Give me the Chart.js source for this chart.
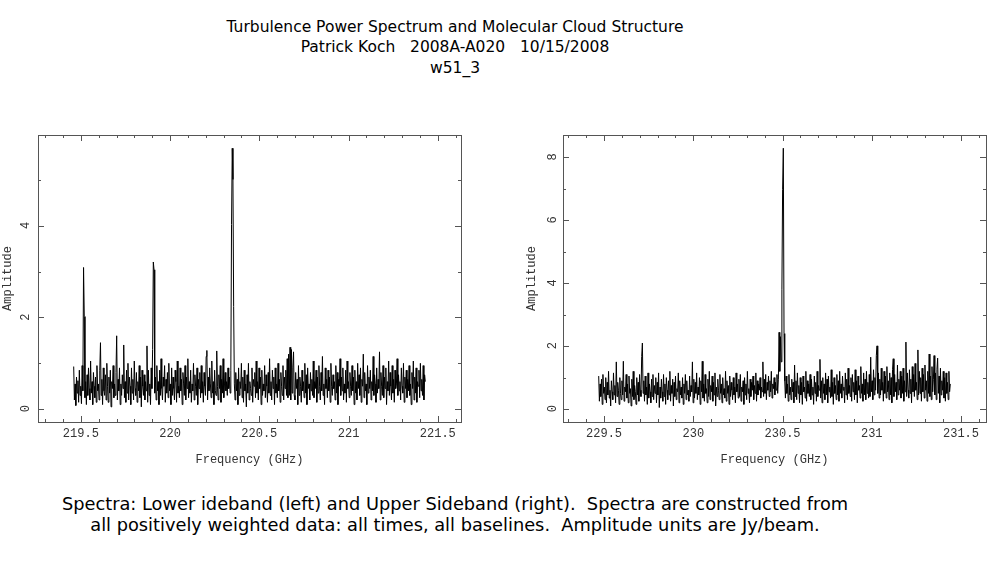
<!DOCTYPE html>
<html>
<head>
<meta charset="utf-8">
<script src="https://cdn.jsdelivr.net/npm/chart.js@4/dist/chart.umd.min.js"></script>
<style>
  html, body { margin: 0; padding: 0; background: #fff; }
  body { width: 987px; height: 567px; position: relative; overflow: hidden; }
  .txt { position: absolute; left: 0; width: 910px; text-align: center; white-space: pre;
         font-family: "DejaVu Sans", sans-serif; color: #000; }
  #title { top: 16.5px; font-size: 15.5px; line-height: 20.5px; }
  #caption { top: 493px; font-size: 17.8px; line-height: 21px; }
  .panel { position: absolute; top: 125px; height: 350px; }
  #lsbBox { left: 0; width: 475px; }
  #usbBox { left: 520px; width: 467px; }
</style>
</head>
<body>
<div id="title" class="txt">Turbulence Power Spectrum and Molecular Cloud Structure
Patrick Koch   2008A-A020   10/15/2008
w51_3</div>
<div class="panel" id="lsbBox"><canvas id="lsbChart"></canvas></div>
<div class="panel" id="usbBox"><canvas id="usbChart"></canvas></div>
<div id="caption" class="txt">Spectra: Lower ideband (left) and Upper Sideband (right).  Spectra are constructed from
all positively weighted data: all times, all baselines.  Amplitude units are Jy/beam.</div>
<script>
// lower sideband: first channel frequency and channel width (GHz), amplitudes in Jy/beam
var lsbFirstChannel = 219.46;
var lsbChannelWidth = 0.003948;
var lsbAmp = [
  0.93,0.2,0.55,0.08,0.7,0.35,0.62,0.15,0.85,0.3,0.5,0.12,0.95,0.4,3.09,2.02,0.25,0.6,0.1,0.75,
  0.3,0.9,0.45,0.2,1.05,0.35,0.6,0.1,0.8,0.5,0.25,0.7,0.15,0.95,0.4,0.55,0.2,0.85,1.45,0.3,
  0.65,0.1,0.9,0.4,0.3,0.75,0.2,1.0,0.5,0.15,0.7,0.35,0.85,0.05,0.6,0.45,0.95,0.25,0.55,0.3,
  0.8,1.6,0.2,0.65,0.4,0.9,0.1,0.55,0.3,0.75,0.45,1.4,0.25,0.6,0.15,0.85,0.35,1.0,0.2,0.7,
  0.5,0.1,0.9,0.35,0.65,0.2,1.05,0.45,0.3,0.8,0.15,0.6,0.4,0.95,0.25,0.7,0.05,0.85,0.5,0.3,
  0.75,0.2,0.6,0.4,1.38,0.15,0.85,0.3,0.55,0.1,0.9,0.45,1.3,3.21,3.04,0.35,0.7,0.2,0.95,0.4,
  0.6,0.1,0.85,0.3,1.1,0.45,0.2,0.7,0.5,0.95,0.15,0.65,0.35,0.8,0.25,1.0,0.4,0.55,0.1,0.9,
  0.3,0.7,0.45,0.2,0.85,0.6,0.15,1.05,0.35,0.5,0.25,0.9,0.4,0.65,0.1,0.8,0.55,0.3,0.95,0.2,
  0.7,0.45,1.1,0.25,0.6,0.35,0.85,0.15,0.55,0.4,1.0,0.2,0.75,0.5,0.3,0.9,0.1,0.65,0.45,0.8,
  0.25,0.95,0.35,0.6,0.15,0.8,0.5,0.3,1.15,1.28,0.2,0.7,0.4,0.9,0.55,0.25,1.05,0.35,0.6,0.1,
  0.85,0.4,0.3,1.27,0.5,0.2,0.75,0.45,0.95,0.15,0.65,0.35,1.1,0.25,0.55,0.8,0.4,0.6,0.3,0.9,
  0.45,0.7,0.35,0.85,4.03,5.69,5.01,2.24,0.55,0.2,0.8,0.4,0.65,0.1,0.9,0.3,0.6,0.45,1.0,0.25,
  0.7,0.15,0.85,0.4,0.55,0.05,0.75,0.35,1.0,0.2,0.6,0.45,0.3,0.9,0.15,0.65,0.5,0.8,0.25,1.05,
  0.35,0.6,0.2,0.9,0.45,0.7,0.1,0.85,0.3,0.55,0.4,0.95,0.25,0.75,0.5,0.15,0.8,0.35,1.1,0.3,
  0.6,0.2,0.85,0.45,0.7,0.1,0.9,0.35,0.55,0.25,1.0,0.4,0.65,0.15,0.8,0.5,0.3,0.95,0.2,0.7,
  0.45,0.85,0.3,1.1,0.25,1.2,0.3,1.35,0.2,1.3,0.35,0.9,1.25,0.3,0.2,0.8,0.45,0.65,0.1,0.95,
  0.3,0.7,0.5,0.15,0.85,0.4,0.6,0.25,1.0,0.35,0.75,0.1,0.9,0.45,0.55,0.2,0.8,0.4,0.65,0.3,
  1.05,0.25,0.6,0.45,0.85,0.15,0.7,0.35,0.95,0.5,0.2,0.8,0.4,1.15,0.3,0.55,0.1,0.9,0.45,0.65,
  0.25,0.85,0.4,0.7,0.15,1.0,0.5,0.3,0.75,0.45,0.6,0.2,0.95,0.35,0.8,0.1,0.65,0.5,1.1,0.3,
  0.7,0.4,0.9,0.2,0.55,0.35,0.85,0.15,1.05,0.45,0.6,0.25,0.8,0.5,0.3,0.95,0.4,0.7,0.1,0.85,
  0.35,0.6,0.2,1.0,0.45,0.75,0.3,0.9,0.15,0.65,0.5,1.2,0.25,0.8,0.4,0.55,0.1,0.95,0.35,0.7,
  0.45,0.85,0.2,0.6,0.4,1.15,0.3,0.75,0.55,0.15,0.9,0.35,0.65,0.45,1.25,0.2,0.8,0.5,0.3,0.95,
  0.25,0.7,0.45,0.9,0.1,0.6,0.4,1.05,0.3,0.8,0.5,0.2,0.95,0.35,0.65,0.15,0.85,0.45,0.55,1.1,
  0.3,0.75,0.4,0.6,0.2,0.9,0.5,0.35,1.0,0.15,0.7,0.45,0.85,0.25,0.65,0.4,0.95,0.3,0.55,0.1,
  0.8,0.45,1.05,0.2,0.7,0.35,0.9,0.15,0.6,0.5,0.85,0.25,1.0,0.4,0.65,0.3,0.95,0.2,0.75,0.6
];
// upper sideband
var usbFirstChannel = 229.47;
var usbChannelWidth = 0.003948;
var usbAmp = [
  1.05,0.25,0.8,0.4,0.95,0.15,1.1,0.5,0.7,0.3,1.0,0.2,0.85,0.45,1.2,0.35,0.6,0.1,0.9,0.55,
  0.3,1.15,0.45,0.75,0.2,1.5,0.4,0.85,0.6,0.15,1.0,0.5,0.3,0.9,0.45,1.52,0.25,0.7,0.55,1.1,
  0.35,0.8,0.2,1.05,0.5,0.65,0.1,0.95,0.4,1.2,0.3,0.75,0.55,0.15,1.0,0.45,0.85,0.25,1.1,0.6,
  0.4,1.67,2.1,0.5,0.9,0.25,1.05,0.45,0.7,0.15,1.15,0.35,0.8,0.55,0.2,0.95,0.4,1.1,0.3,0.75,
  0.5,1.0,0.2,0.85,0.45,1.15,0.05,0.7,0.35,0.95,0.55,0.25,1.1,0.4,0.8,0.15,1.0,0.6,0.3,0.9,
  0.45,1.2,0.25,0.75,0.5,0.95,0.1,0.85,0.4,1.05,0.3,0.65,0.55,1.15,0.2,0.9,0.45,0.7,0.35,1.0,
  0.15,0.8,0.5,1.1,0.3,0.9,0.45,0.6,0.25,1.05,0.4,0.75,0.55,1.5,0.2,0.95,0.35,0.85,0.5,1.15,
  0.3,0.7,0.45,1.0,0.15,0.9,0.55,1.52,0.35,0.8,0.25,1.1,0.5,0.65,0.2,0.95,0.4,1.2,0.3,0.75,
  0.55,1.05,0.25,0.85,0.45,1.15,0.1,0.7,0.4,0.95,0.6,0.3,1.1,0.5,0.8,0.2,1.0,0.45,0.65,0.35,
  1.2,0.25,0.9,0.5,0.75,0.15,1.05,0.4,0.85,0.6,0.3,1.0,0.45,0.7,0.2,1.15,0.55,0.8,0.35,0.95,
  0.4,1.1,0.25,0.7,0.55,0.9,0.15,1.0,0.45,0.8,0.3,1.2,0.5,0.65,0.2,0.95,0.4,0.85,0.6,1.05,
  0.3,0.75,0.5,1.15,0.25,0.9,0.45,0.8,0.6,1.0,0.35,0.7,0.55,1.5,0.4,0.95,0.5,1.1,0.3,0.85,
  0.6,1.05,0.4,0.9,0.55,1.2,0.35,0.8,0.65,1.0,0.45,0.85,0.6,1.1,0.5,0.95,2.44,1.2,2.3,1.5,
  3.79,6.97,8.29,2.4,0.9,0.35,1.05,0.5,0.8,0.25,1.1,0.45,0.7,0.3,0.95,0.55,0.85,0.2,1.4,0.4,
  0.9,0.3,1.15,0.5,0.75,0.2,1.0,0.45,0.85,0.15,1.05,0.55,0.7,0.35,1.2,0.25,0.9,0.5,0.8,0.4,
  1.1,0.3,0.95,0.45,0.7,0.15,1.05,0.5,0.85,0.25,1.2,0.4,0.75,0.6,1.58,0.35,0.9,0.2,1.0,0.5,
  0.8,0.3,1.15,0.45,0.95,0.2,1.05,0.55,0.7,0.35,1.25,0.4,0.85,0.15,1.0,0.5,0.75,0.3,1.1,0.45,
  0.9,0.25,1.2,0.5,0.8,0.35,1.05,0.6,0.7,0.2,1.15,0.45,0.95,0.3,1.3,0.5,0.75,0.4,1.0,0.25,
  1.1,0.55,0.85,0.3,1.25,0.45,0.9,0.2,1.05,0.6,0.75,0.35,1.35,0.5,0.8,0.25,1.15,0.45,0.95,0.3,
  1.2,0.5,0.85,0.35,1.1,0.4,1.65,0.55,0.9,0.3,1.25,0.45,1.0,0.6,1.7,2.01,0.5,1.15,0.35,0.95,
  0.45,1.3,0.6,0.85,0.25,1.2,0.5,1.05,0.35,1.35,0.55,0.9,0.3,1.15,0.45,1.0,0.2,1.25,1.6,0.4,
  1.1,0.55,0.85,0.3,1.4,0.45,0.95,0.6,1.2,0.35,1.05,0.5,1.3,0.25,0.9,0.55,2.13,0.4,1.15,0.6,
  0.35,1.25,0.5,0.95,0.2,1.35,0.55,1.1,0.4,1.45,0.6,0.85,0.3,1.88,0.45,1.2,0.5,1.0,0.25,1.3,
  0.55,1.1,0.35,1.4,0.6,0.9,0.25,1.2,0.5,1.75,0.4,1.05,0.3,1.35,0.55,0.95,1.7,0.45,1.15,0.3,
  1.25,1.62,0.5,1.05,0.2,1.3,0.45,0.9,0.6,1.2,0.35,1.0,0.25,1.15,0.5,0.85,0.3,1.2,0.55,0.8
];

var lsbFreqTicks = [219.5, 220, 220.5, 221, 221.5];
var usbFreqTicks = [229.5, 230, 230.5, 231, 231.5];
var lsbAmpTicks = [0, 2, 4];
var usbAmpTicks = [0, 2, 4, 6, 8];

var axisFont = { family: 'Liberation Mono', size: 12 };
var axisColor = '#333';

// PGPLOT-like box: full frame with inward ticks on all four sides
var boxPlugin = {
  id: 'box',
  afterDatasetsDraw: function(chart) {
    var ctx = chart.ctx, a = chart.chartArea, x = chart.scales.x, y = chart.scales.y;
    ctx.save();
    ctx.strokeStyle = '#555';
    ctx.lineWidth = 1;
    ctx.strokeRect(Math.round(a.left) + 0.5, Math.round(a.top) + 0.5,
                   Math.round(a.right - a.left), Math.round(a.bottom - a.top));
    ctx.beginPath();
    for (var k = Math.ceil(x.min * 10); k <= Math.floor(x.max * 10); k++) {
      var px = Math.round(x.getPixelForValue(k / 10)) + 0.5;
      var len = (k % 5 === 0) ? 6 : 3;
      ctx.moveTo(px, a.bottom); ctx.lineTo(px, a.bottom - len);
      ctx.moveTo(px, a.top); ctx.lineTo(px, a.top + len);
    }
    for (var j = Math.ceil(y.min); j <= Math.floor(y.max); j++) {
      var py = Math.round(y.getPixelForValue(j)) + 0.5;
      var l2 = (j % 2 === 0) ? 6 : 3;
      ctx.moveTo(a.left, py); ctx.lineTo(a.left + l2, py);
      ctx.moveTo(a.right, py); ctx.lineTo(a.right - l2, py);
    }
    ctx.stroke();
    ctx.restore();
  }
};

function makeSpectrum(id, first, width, amps, xr, yr, xTicks, yTicks, geo) {
  var points = amps.map(function(v, i) { return { x: first + i * width, y: v }; });
  return new Chart(document.getElementById(id), {
    type: 'line',
    data: { datasets: [{ data: points, borderColor: '#000', borderWidth: 1, pointRadius: 0, tension: 0 }] },
    options: {
      responsive: true,
      maintainAspectRatio: false,
      animation: false,
      layout: { padding: { top: geo.top, right: geo.right, left: 0, bottom: 0 } },
      plugins: { legend: { display: false }, tooltip: { enabled: false } },
      scales: {
        x: {
          type: 'linear', min: xr[0], max: xr[1],
          afterBuildTicks: function(s) { s.ticks = xTicks.map(function(v) { return { value: v }; }); },
          afterFit: function(s) { s.height = geo.xh; s.paddingLeft = 0; s.paddingRight = 0; },
          grid: { display: false, drawTicks: false },
          border: { display: false },
          ticks: { font: axisFont, color: axisColor, padding: 5, maxRotation: 0, autoSkip: false,
                   callback: function(v) { return String(v); } },
          title: { display: true, text: 'Frequency (GHz)', font: axisFont, color: axisColor,
                   padding: { top: 0, bottom: 8 } }
        },
        y: {
          type: 'linear', min: yr[0], max: yr[1],
          afterBuildTicks: function(s) { s.ticks = yTicks.map(function(v) { return { value: v }; }); },
          afterFit: function(s) { s.width = geo.yw; s.paddingTop = 0; s.paddingBottom = 0; },
          grid: { display: false, drawTicks: false },
          border: { display: false },
          ticks: { font: axisFont, color: axisColor, padding: geo.ypad, minRotation: 90, maxRotation: 90,
                   labelOffset: -4, autoSkip: false },
          title: { display: true, text: 'Amplitude', font: axisFont, color: axisColor,
                   padding: { top: geo.ytpad, bottom: 0 } }
        }
      }
    },
    plugins: [boxPlugin]
  });
}

makeSpectrum('lsbChart', lsbFirstChannel, lsbChannelWidth, lsbAmp, [219.26, 221.63], [-0.28, 5.98],
  lsbFreqTicks, lsbAmpTicks, { top: 10, right: 14, xh: 53, yw: 38, ypad: 12, ytpad: 1 });
makeSpectrum('usbChart', usbFirstChannel, usbChannelWidth, usbAmp, [229.27, 231.64], [-0.41, 8.71],
  usbFreqTicks, usbAmpTicks, { top: 10, right: 1, xh: 53, yw: 43, ypad: 10, ytpad: 5 });
</script>
</body>
</html>
